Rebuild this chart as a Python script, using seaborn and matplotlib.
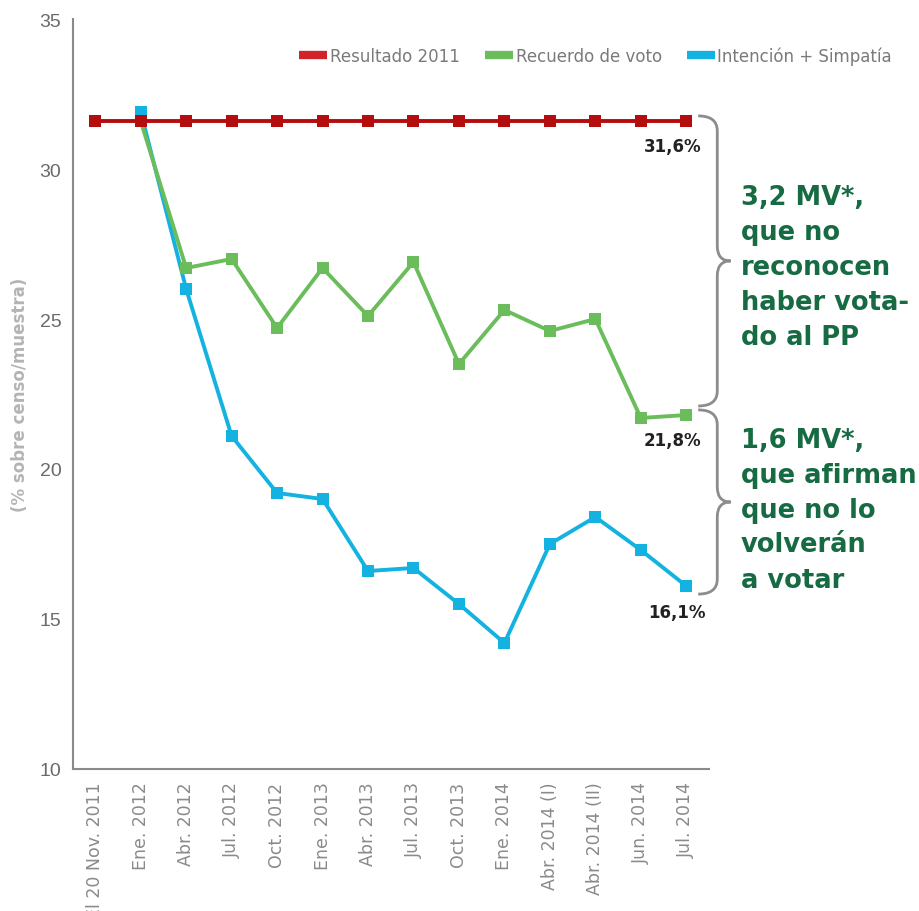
import numpy as np
import pandas as pd
import seaborn as sns
import matplotlib.pyplot as plt
from matplotlib.lines import Line2D
from matplotlib.path import Path
from matplotlib.patches import PathPatch

# Datos
fechas = ["El 20 Nov. 2011", "Ene. 2012", "Abr. 2012", "Jul. 2012", "Oct. 2012",
          "Ene. 2013", "Abr. 2013", "Jul. 2013", "Oct. 2013", "Ene. 2014",
          "Abr. 2014 (I)", "Abr. 2014 (II)", "Jun. 2014", "Jul. 2014"]
resultado_2011 = [31.6] * 14
recuerdo_voto = [np.nan, 31.6, 26.7, 27.0, 24.7, 26.7, 25.1, 26.9, 23.5, 25.3, 24.6, 25.0, 21.7, 21.8]
intencion_simpatia = [np.nan, 31.9, 26.0, 21.1, 19.2, 19.0, 16.6, 16.7, 15.5, 14.2, 17.5, 18.4, 17.3, 16.1]

series = {"Resultado 2011": resultado_2011,
          "Recuerdo de voto": recuerdo_voto,
          "Intención + Simpatía": intencion_simpatia}
colores = {"Resultado 2011": "#b40d0d",
           "Recuerdo de voto": "#6abd5a",
           "Intención + Simpatía": "#14b2e0"}
colores_leyenda = {"Resultado 2011": "#d1232a",
                   "Recuerdo de voto": "#6abd5a",
                   "Intención + Simpatía": "#14b2e0"}

df = pd.concat([pd.DataFrame({"pos": range(len(fechas)), "valor": v, "serie": k})
                for k, v in series.items()]).dropna()

sns.set_style("white")
plt.rcParams['font.family'] = ['DejaVu Sans']

fig = plt.figure(figsize=(9.2, 9.12), dpi=100)
ax = fig.add_axes([72.5 / 920, 142 / 912, 636.5 / 920, 750 / 912])

sns.lineplot(data=df, x="pos", y="valor", hue="serie",
             hue_order=["Intención + Simpatía", "Recuerdo de voto", "Resultado 2011"],
             palette=colores, marker="s", markersize=8, markeredgewidth=0,
             linewidth=2.8, legend=False, sort=False, ax=ax)

ax.set_xlim(-0.5, 13.5)
ax.set_ylim(10, 35)

# ejes
for s in ["top", "right"]:
    ax.spines[s].set_visible(False)
for s in ["left", "bottom"]:
    ax.spines[s].set_color("#8a8a8a")
    ax.spines[s].set_linewidth(1.5)

ax.set_yticks(range(10, 36, 5))
ax.tick_params(axis="y", direction="in", length=15, width=1.2, color="#8a8a8a",
               labelsize=14, labelcolor="#6a6a6a", pad=8)
for t in ax.get_yticklabels():
    t.set_fontfamily(["Liberation Sans", "DejaVu Sans"])

ax.set_xticks(range(len(fechas)))
ax.set_xticklabels(fechas, rotation=90, va="top", ha="center")
ax.set_xticks(np.arange(0.5, 14, 1), minor=True)
ax.tick_params(axis="x", which="major", length=0, labelsize=12.5, labelcolor="#8a8a8a", pad=9)
ax.tick_params(axis="x", which="minor", direction="in", length=13, width=1.2, color="#8a8a8a")

ax.set_xlabel("")
ax.set_ylabel("(% sobre censo/muestra)", color="#b4b4b4", fontsize=12,
              fontweight="bold", labelpad=8)

# leyenda
handles = [Line2D([], [], color=colores_leyenda[k], lw=6, solid_capstyle="butt") for k in series]
fig.legend(handles, list(series.keys()), loc="center left",
           bbox_to_anchor=(284 / 920, 1 - 57 / 912), ncol=3, frameon=False,
           handlelength=1.7, handletextpad=0.15, columnspacing=1.5,
           prop={"size": 12}, labelcolor="#7a7a7a")

# etiquetas de valores finales
offsets = {"Resultado 2011": (11, -18), "Recuerdo de voto": (11, -18),
           "Intención + Simpatía": (14, -19)}
for k, v in series.items():
    val = v[-1]
    ax.annotate(f"{val:.1f}%".replace(".", ","), xy=(len(fechas) - 1, val),
                xytext=offsets[k], textcoords="offset points", ha="right", va="center",
                fontsize=12, fontweight="bold", color="#222222", annotation_clip=False)


# llaves
def llave(ax, y_top, y_bot, x0=0.983, x1=1.013, x2=1.034, r=0.5):
    ym = (y_top + y_bot) / 2
    verts = [(x0, y_top), (x1, y_top), (x1, y_top - r), (x1, ym + r), (x1, ym), (x2, ym),
             (x1, ym), (x1, ym - r), (x1, y_bot + r), (x1, y_bot), (x0, y_bot)]
    codes = [Path.MOVETO, Path.CURVE3, Path.CURVE3, Path.LINETO, Path.CURVE3, Path.CURVE3,
             Path.CURVE3, Path.CURVE3, Path.LINETO, Path.CURVE3, Path.CURVE3]
    ax.add_patch(PathPatch(Path(verts, codes), transform=ax.get_yaxis_transform(),
                           fill=False, ec="#8c8c8c", lw=2, clip_on=False))


llave(ax, 31.77, 22.1)
llave(ax, 21.97, 15.83)

verde = "#176b43"
ax.text(1.05, 26.75, "3,2 MV*,\nque no\nreconocen\nhaber vota-\ndo al PP",
        transform=ax.get_yaxis_transform(), ha="left", va="center", fontsize=18.5,
        fontweight="bold", color=verde, linespacing=1.45)
ax.text(1.05, 18.65, "1,6 MV*,\nque afirman\nque no lo\nvolverán\na votar",
        transform=ax.get_yaxis_transform(), ha="left", va="center", fontsize=18.5,
        fontweight="bold", color=verde, linespacing=1.45)

fig.savefig("out.png", dpi=100)
